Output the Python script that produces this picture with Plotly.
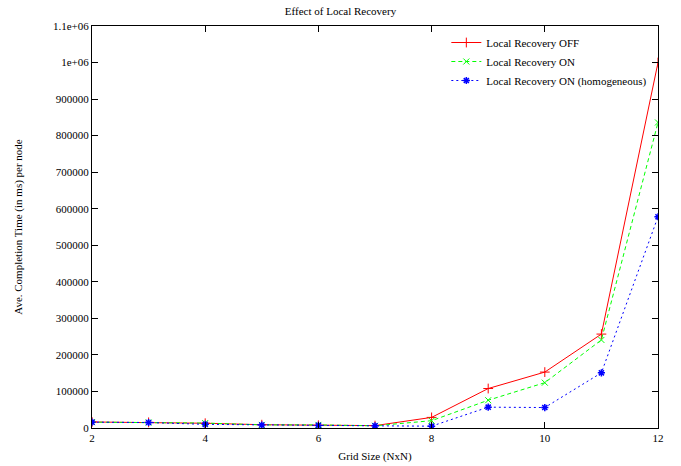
import plotly.graph_objects as go

# Grid size N for an N x N grid
grid_size = [2, 3, 4, 5, 6, 7, 8, 9, 10, 11, 12]

# Average completion time per node (ms)
recovery_off = [16500, 15500, 13000, 9000, 7500, 6500, 29000, 108000, 153000, 257000, 1000000]
recovery_on = [16000, 15000, 13500, 8500, 8500, 6000, 20000, 76000, 124000, 241000, 836000]
recovery_on_homog = [16000, 15000, 10000, 8000, 7000, 6000, 5000, 57000, 56000, 151000, 578000]

y_tick_vals = [0, 100000, 200000, 300000, 400000, 500000, 600000, 700000,
               800000, 900000, 1000000, 1100000]
y_tick_text = ["0", "100000", "200000", "300000", "400000", "500000", "600000",
               "700000", "800000", "900000", "1e+06", "1.1e+06"]
x_tick_vals = [2, 4, 6, 8, 10, 12]

font_family = "'Liberation Serif', 'Times New Roman', serif"

fig = go.Figure()
fig.add_trace(go.Scatter(
    x=grid_size, y=recovery_off, mode="lines+markers", name="Local Recovery OFF",
    line=dict(color="#ff0000", width=1),
    marker=dict(symbol="cross-thin", size=7, line=dict(color="#ff0000", width=1)),
))
fig.add_trace(go.Scatter(
    x=grid_size, y=recovery_on, mode="lines+markers", name="Local Recovery ON",
    line=dict(color="#00ff00", width=1, dash="4px,3px"),
    marker=dict(symbol="x-thin", size=6, line=dict(color="#00ff00", width=1)),
))
fig.add_trace(go.Scatter(
    x=grid_size, y=recovery_on_homog, mode="lines+markers",
    name="Local Recovery ON (homogeneous)",
    line=dict(color="#0000ff", width=1, dash="2px,3px"),
    marker=dict(symbol="asterisk-open", size=6, line=dict(color="#0000ff", width=1.5)),
))

axis_common = dict(
    showline=True, linecolor="black", linewidth=1, mirror="ticks",
    ticks="inside", ticklen=6, tickcolor="black", showgrid=False, zeroline=False,
    automargin=False,
    tickfont=dict(family=font_family, size=11, color="black"),
)

fig.update_layout(
    width=681, height=466,
    margin=dict(l=92, r=23, t=26, b=38),
    paper_bgcolor="white", plot_bgcolor="white",
    font=dict(family=font_family, size=11, color="black"),
    title=dict(text="Effect of Local Recovery", x=0.5, xanchor="center",
               y=0.985, yanchor="top", font=dict(family=font_family, size=11)),
    xaxis=dict(range=[2, 12], tickvals=x_tick_vals,
               title=dict(text="Grid Size (NxN)", standoff=9,
                          font=dict(family=font_family, size=11)),
               **axis_common),
    yaxis=dict(range=[0, 1100000], tickvals=y_tick_vals, ticktext=y_tick_text,
               title=dict(text="Ave. Completion Time (in ms) per node", standoff=28,
                          font=dict(family=font_family, size=11)),
               **axis_common),
    legend=dict(x=0.99, y=0.995, xanchor="right", yanchor="top",
                bgcolor="rgba(0,0,0,0)", font=dict(family=font_family, size=11),
                tracegroupgap=0, itemwidth=30),
    showlegend=True,
)

fig.write_html("out.html")
